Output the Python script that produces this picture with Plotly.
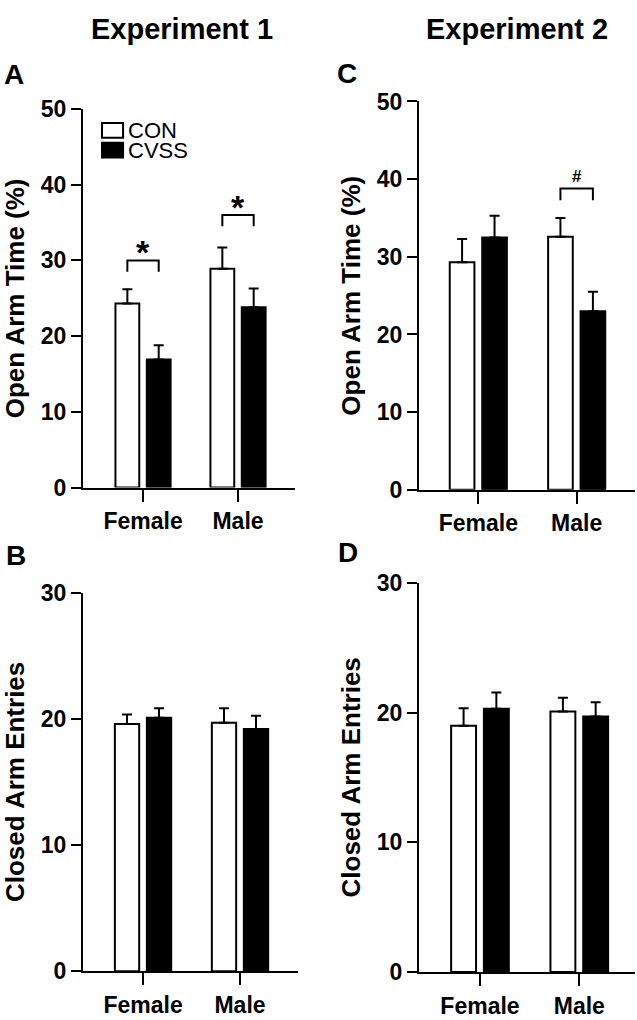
import plotly.graph_objects as go

FONT = "Liberation Sans, Arial, sans-serif"

CATEGORIES = ["Female", "Male"]
GROUP_NAMES = ["CON", "CVSS"]

# Experiment 1 - open arm time (%), mean and SEM
EXP1_OPEN_CON = [24.3, 28.9]
EXP1_OPEN_CON_ERR = [1.9, 2.8]
EXP1_OPEN_CVSS = [16.9, 23.8]
EXP1_OPEN_CVSS_ERR = [1.9, 2.5]

# Experiment 1 - closed arm entries
EXP1_CLOSED_CON = [19.6, 19.7]
EXP1_CLOSED_CON_ERR = [0.75, 1.15]
EXP1_CLOSED_CVSS = [20.1, 19.2]
EXP1_CLOSED_CVSS_ERR = [0.75, 1.05]

# Experiment 2 - open arm time (%)
EXP2_OPEN_CON = [29.3, 32.6]
EXP2_OPEN_CON_ERR = [3.0, 2.4]
EXP2_OPEN_CVSS = [32.5, 23.0]
EXP2_OPEN_CVSS_ERR = [2.8, 2.5]

# Experiment 2 - closed arm entries
EXP2_CLOSED_CON = [19.0, 20.1]
EXP2_CLOSED_CON_ERR = [1.35, 1.05]
EXP2_CLOSED_CVSS = [20.3, 19.7]
EXP2_CLOSED_CVSS_ERR = [1.25, 1.1]

OPEN_TICKS = [0, 10, 20, 30, 40, 50]
CLOSED_TICKS = [0, 10, 20, 30]

# significance brackets: (category, bracket height, mark)
EXP1_OPEN_SIG = [("Female", 30.0, "*"), ("Male", 36.0, "*")]
EXP2_OPEN_SIG = [("Male", 38.8, "#")]

BARGAP = 0.34
BARGROUPGAP = 0.24
HALF = (1 - BARGAP) / 4  # centre offset of each bar in a group

W, H = 637, 1020


def px_x(p):
    return p / W


def px_y(p):
    return 1 - p / H


PANELS = [
    dict(letter="A", ax="", xpx=(83, 295), ypx=(98.5, 487), xr=(-0.632, 1.600),
         ticks=OPEN_TICKS, ytitle="Open Arm Time (%)",
         con=EXP1_OPEN_CON, con_err=EXP1_OPEN_CON_ERR,
         cvss=EXP1_OPEN_CVSS, cvss_err=EXP1_OPEN_CVSS_ERR,
         sig=EXP1_OPEN_SIG, legend=True),
    dict(letter="B", ax="2", xpx=(83, 298), ypx=(595, 983.3), xr=(-0.619, 1.598),
         ticks=CLOSED_TICKS, ytitle="Closed Arm Entries",
         con=EXP1_CLOSED_CON, con_err=EXP1_CLOSED_CON_ERR,
         cvss=EXP1_CLOSED_CVSS, cvss_err=EXP1_CLOSED_CVSS_ERR,
         sig=[], legend=False),
    dict(letter="C", ax="3", xpx=(419, 635), ypx=(90.8, 489.3), xr=(-0.603, 1.593),
         ticks=OPEN_TICKS, ytitle="Open Arm Time (%)",
         con=EXP2_OPEN_CON, con_err=EXP2_OPEN_CON_ERR,
         cvss=EXP2_OPEN_CVSS, cvss_err=EXP2_OPEN_CVSS_ERR,
         sig=EXP2_OPEN_SIG, legend=False),
    dict(letter="D", ax="4", xpx=(419, 635), ypx=(585, 984), xr=(-0.614, 1.561),
         ticks=CLOSED_TICKS, ytitle="Closed Arm Entries",
         con=EXP2_CLOSED_CON, con_err=EXP2_CLOSED_CON_ERR,
         cvss=EXP2_CLOSED_CVSS, cvss_err=EXP2_CLOSED_CVSS_ERR,
         sig=[], legend=False),
]

fig = go.Figure()
xpos = list(range(len(CATEGORIES)))

for p in PANELS:
    xa, ya = "x" + p["ax"], "y" + p["ax"]
    for name, vals, errs, fill in [
        (GROUP_NAMES[0], p["con"], p["con_err"], "white"),
        (GROUP_NAMES[1], p["cvss"], p["cvss_err"], "black"),
    ]:
        fig.add_trace(go.Bar(
            x=xpos, y=vals, name=name, xaxis=xa, yaxis=ya, showlegend=False,
            marker=dict(color=fill, line=dict(color="black", width=2)),
            error_y=dict(type="data", symmetric=False, array=errs,
                         arrayminus=[0] * len(errs), color="black",
                         thickness=2, width=5),
        ))

    ymax = p["ticks"][-1]
    leg = 0.03 * ymax
    for cat, yb, mark in p["sig"]:
        c = CATEGORIES.index(cat)
        fig.add_trace(go.Scatter(
            x=[c - HALF, c - HALF, c + HALF, c + HALF],
            y=[yb - leg, yb, yb, yb - leg],
            mode="lines", line=dict(color="black", width=2),
            xaxis=xa, yaxis=ya, showlegend=False, hoverinfo="skip",
        ))
        star = mark == "*"
        fig.add_annotation(
            x=c, y=yb, xref=xa, yref=ya, text=mark, showarrow=False,
            yanchor="bottom", yshift=-13 if star else 0,
            font=dict(family=FONT, size=34 if star else 17, color="black",
                      weight="bold"),
        )

    sx = p["ax"]
    x0, x1 = p["xpx"]
    y_top, y_zero = p["ypx"]
    line_style = dict(
        showline=True, linecolor="black", linewidth=2, ticks="outside",
        tickcolor="black", tickwidth=2, showgrid=False, zeroline=False,
    )
    fig.update_layout(**{
        "xaxis" + sx: dict(
            domain=[px_x(x0), px_x(x1)], range=list(p["xr"]), anchor=ya,
            tickvals=xpos, ticktext=CATEGORIES, ticklen=12,
            tickfont=dict(family=FONT, size=23, color="black", weight="bold"),
            **line_style,
        ),
        "yaxis" + sx: dict(
            domain=[px_y(y_zero), px_y(y_top)], range=[0, ymax], anchor=xa,
            tickvals=p["ticks"], ticklen=10,
            tickfont=dict(family=FONT, size=23, color="black", weight="bold"),
            **line_style,
        ),
    })

    # y axis title
    fig.add_annotation(
        x=px_x(x0 - 68), y=px_y((y_top + y_zero) / 2), xref="paper", yref="paper",
        text=p["ytitle"], textangle=-90, showarrow=False,
        xanchor="center", yanchor="middle",
        font=dict(family=FONT, size=26, color="black", weight="bold"),
    )

    if p["legend"]:
        dom_x, dom_y = xa + " domain", ya + " domain"
        for i, (name, fill) in enumerate(zip(GROUP_NAMES, ["white", "black"])):
            top = 0.963 - i * 0.052
            fig.add_shape(type="rect", xref=dom_x, yref=dom_y,
                          x0=0.0896, x1=0.189, y0=top - 0.039, y1=top,
                          line=dict(color="black", width=2), fillcolor=fill)
            fig.add_annotation(
                x=0.205, y=top - 0.02, xref=dom_x, yref=dom_y, text=name,
                showarrow=False, xanchor="left", yanchor="middle",
                font=dict(family=FONT, size=22, color="black"),
            )

LETTERS = [("A", 14, 63), ("B", 16, 557), ("C", 347, 62), ("D", 348, 554)]
for letter, lx, ly in LETTERS:
    fig.add_annotation(
        x=px_x(lx), y=px_y(ly), xref="paper", yref="paper", text=letter,
        showarrow=False, xanchor="center", yanchor="middle",
        font=dict(family=FONT, size=28, color="black", weight="bold"),
    )

TITLES = [("Experiment 1", 182, 16), ("Experiment 2", 517, 16)]
for title, tx, ty in TITLES:
    fig.add_annotation(
        x=px_x(tx), y=px_y(ty), xref="paper", yref="paper", text=title,
        showarrow=False, xanchor="center", yanchor="middle",
        font=dict(family=FONT, size=29, color="black", weight="bold"),
    )

fig.update_layout(
    width=W, height=H, margin=dict(l=0, r=0, t=0, b=0),
    paper_bgcolor="white", plot_bgcolor="white",
    barmode="group", bargap=BARGAP, bargroupgap=BARGROUPGAP,
    showlegend=False,
)

# page body has a default margin; drop it so the figure fills the window
fig.write_html(
    "out.html",
    config={"displayModeBar": False},
    post_script="document.body.style.margin='0';",
)
